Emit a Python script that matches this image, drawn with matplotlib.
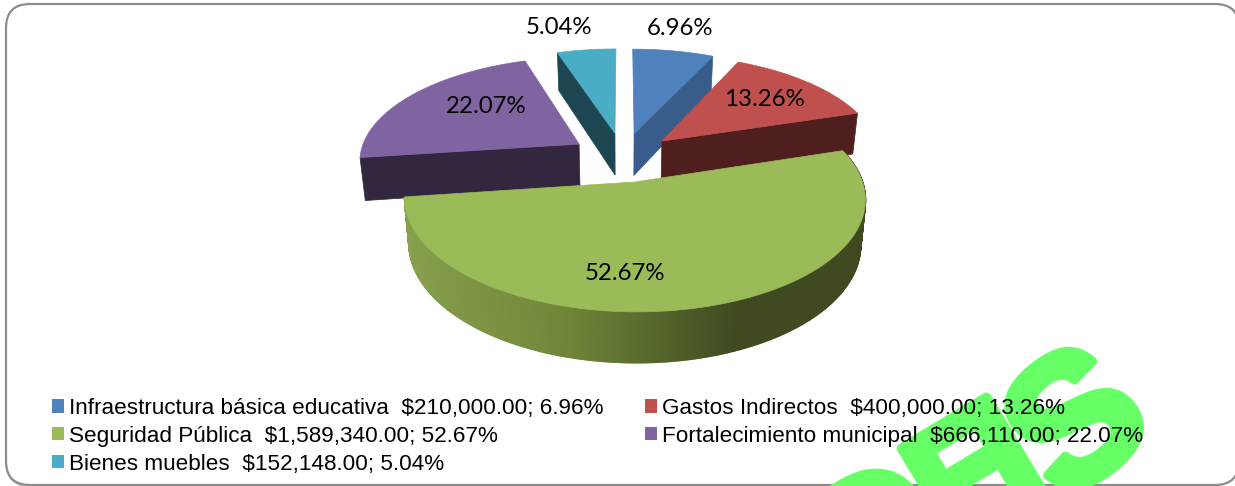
import numpy as np
import matplotlib
matplotlib.use("Agg")
import matplotlib.pyplot as plt
import matplotlib.patheffects as pe
from matplotlib.patches import Polygon, FancyBboxPatch, Patch

names = ["Infraestructura básica educativa", "Gastos Indirectos", "Seguridad Pública",
         "Fortalecimiento municipal", "Bienes muebles"]
values = [210000.00, 400000.00, 1589340.00, 666110.00, 152148.00]
top_colors = ["#4F81BD", "#C0504D", "#9BBB59", "#8064A2", "#4BACC6"]
side_colors = ["#385D8A", "#4F1F1F", "#7F9A48", "#33273F", "#1D4552"]
rim_stops = [(0.0, "#86a04c"), (0.35, "#6f8639"), (0.72, "#3f4a20"), (1.0, "#3f4a20")]

label_radius = [1.55, 0.93, 0.975, 0.85, 1.58]
label_turn = [-0.7, 0, 12, 6, -4]
legend_order = [0, 2, 4, 1, 3]

watermark_letters = ["D", "E", "I", "S"]
watermark_along = [-110, 0, 76, 134]
watermark_drop = [0, 0, 0, 25]
watermark_angle = [31, 31, 31, 38]
watermark_size = [115, 115, 115, 130]

# projection of the tilted pie, in figure pixels
CX, CY, A, B, PERSP, EXPLODE = 623, 157, 220, 103, 0.145, 0.24
DEPTH, BOTTOM_SX, BOTTOM_SY = 43, 0.98, 1.05


def project(x, yf, bottom=False):
    w = 1 / (1 - PERSP * yf)
    if bottom:
        return CX + A * x * w * BOTTOM_SX, CY + DEPTH + B * yf * w * BOTTOM_SY
    return CX + A * x * w, CY + B * yf * w


def hex2rgb(c):
    return np.array(matplotlib.colors.to_rgb(c))


def rim_color(t):
    for (a, ca), (b, cb) in zip(rim_stops[:-1], rim_stops[1:]):
        if t <= b:
            return (1 - (t - a) / (b - a)) * hex2rgb(ca) + (t - a) / (b - a) * hex2rgb(cb)
    return hex2rgb(rim_stops[-1][1])


fig = plt.figure(figsize=(12.35, 4.86), dpi=100)
ax = fig.add_axes([0, 0, 1, 1])
ax.set_xlim(0, 1235)
ax.set_ylim(486, 0)
ax.axis("off")

# chart frame with soft shadow
box = dict(boxstyle="round,pad=0,rounding_size=24")
for off, col, lw in [(2.5, "#e2e2e2", 3), (1.2, "#c4c4c4", 2)]:
    ax.add_patch(FancyBboxPatch((6 + off, 4 + off), 1233, 481, fc="none", ec=col, lw=lw, zorder=1, **box))
ax.add_patch(FancyBboxPatch((6, 4), 1233, 481, fc="white", ec="#8c8c8c", lw=1.6, zorder=1.5, **box))

# watermark: heavy, tightly set letters on a rising baseline
wm_dir = np.array([np.cos(np.deg2rad(31)), -np.sin(np.deg2rad(31))])
wm_origin = np.array([949.0, 548.0])
for ch, along, drop, ang, size in zip(watermark_letters, watermark_along, watermark_drop,
                                      watermark_angle, watermark_size):
    px, py = wm_origin + along * wm_dir + np.array([0, drop])
    ax.text(px, py, ch, rotation=ang, rotation_mode="anchor", ha="left", va="baseline",
            fontsize=size, fontweight="bold", family="Liberation Sans", color="#66FF66", zorder=2,
            clip_on=True, path_effects=[pe.withStroke(linewidth=7, foreground="#66FF66")])

total = sum(values)
edges = np.cumsum([0] + values) / total * 2 * np.pi
mids = (edges[:-1] + edges[1:]) / 2
offsets = [(EXPLODE * np.sin(m), -EXPLODE * np.cos(m)) for m in mids]


def wedge(i, bottom=False, n=120):
    th = np.linspace(edges[i], edges[i + 1], n)
    ox, oy = offsets[i]
    px, py = project(ox + np.sin(th), oy - np.cos(th), bottom)
    ax0, ay0 = project(ox, oy, bottom)
    return np.r_[ax0, px], np.r_[ay0, py]


def radial_face(i, theta):
    ox, oy = offsets[i]
    a = project(ox, oy)
    b = project(ox + np.sin(theta), oy - np.cos(theta))
    c = project(ox + np.sin(theta), oy - np.cos(theta), True)
    d = project(ox, oy, True)
    return [a, b, c, d]


# back to front: teal, blue, purple, red, green
z = 3
for i in [4, 0, 3, 1]:
    theta = edges[i + 1] if i in (0, 1) else edges[i]
    ax.add_patch(Polygon(radial_face(i, theta), closed=True, fc=side_colors[i], ec=side_colors[i],
                         lw=0.5, zorder=z))
    x, y = wedge(i)
    ax.add_patch(Polygon(np.c_[x, y], closed=True, fc=top_colors[i], ec=top_colors[i], lw=0.5, zorder=z + 0.5))
    z += 1

# green slice: shaded rim strips and the top face
g = 2
ox, oy = offsets[g]
strips = np.linspace(edges[g], edges[g + 1], 361)
tx, ty = project(ox + np.sin(strips), oy - np.cos(strips))
bx, by = project(ox + np.sin(strips), oy - np.cos(strips), True)
xmin, xmax = tx.min(), tx.max()
for k in range(len(strips) - 1):
    t = (0.5 * (tx[k] + tx[k + 1]) - xmin) / (xmax - xmin)
    col = rim_color(t)
    ax.add_patch(Polygon([(tx[k], ty[k]), (tx[k + 1], ty[k + 1]), (bx[k + 1], by[k + 1]), (bx[k], by[k])],
                         closed=True, fc=col, ec=col, lw=1.2, zorder=z))
x, y = wedge(g)
ax.add_patch(Polygon(np.c_[x, y], closed=True, fc=top_colors[g], ec=top_colors[g], lw=0.5, zorder=z + 0.5))

# data labels
pct = [v / total * 100 for v in values]
for i in range(len(values)):
    th = mids[i] + np.deg2rad(label_turn[i])
    r = label_radius[i]
    lx, ly = project(r * np.sin(th), -r * np.cos(th))
    ax.text(lx, ly, f"{pct[i]:.2f}%", ha="center", va="center", fontsize=17.3, family="Lato",
            color="black", zorder=20)

# legend (matplotlib fills column by column)
handles = [Patch(fc=top_colors[i], ec="none", label=f"{names[i]}  ${values[i]:,.2f}; {pct[i]:.2f}%")
           for i in legend_order]
ax.legend(handles=handles, ncols=2, loc="upper left", bbox_to_anchor=(52 / 1235, 1 - 398 / 486),
          frameon=False, prop={"family": "Liberation Sans", "size": 16.2},
          handlelength=0.53, handleheight=0.53, handletextpad=0.22, labelspacing=0.3,
          columnspacing=1.87, borderpad=0, borderaxespad=0).set_zorder(20)

fig.savefig("out.png", dpi=100)
